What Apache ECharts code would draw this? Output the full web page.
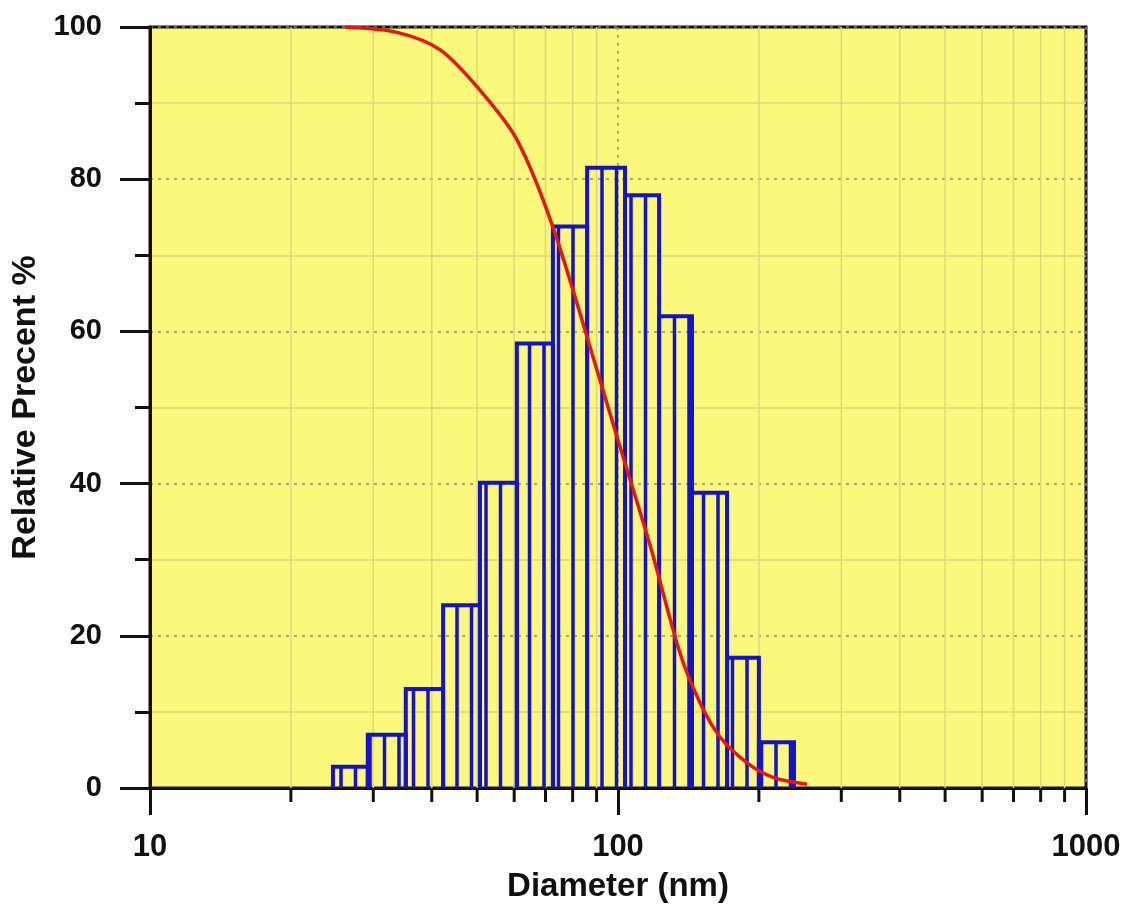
<!DOCTYPE html>
<html>
<head>
<meta charset="utf-8">
<script src="https://cdn.jsdelivr.net/npm/echarts@6/dist/echarts.min.js"></script>
<style>
  html, body { margin: 0; padding: 0; background: #fff; }
  #chart { width: 1130px; height: 915px; }
</style>
</head>
<body>
<div id="chart"></div>
<script>
// histogram bins (nm) and relative percent
const binEdges = [24.6, 29.2, 35.2, 42.3, 50.7, 60.8, 72.6, 85.9, 103.5, 122.4, 143.9, 171.0, 200.0, 237.7];
const binHeights = [2.8, 7.0, 13.0, 24.0, 40.1, 58.4, 73.8, 81.5, 77.9, 62.0, 38.8, 17.1, 6.0];

// cumulative curve
const cumDiameter = [26.1, 33.7, 41.7, 50.7, 60.8, 72.6, 90.2, 100, 117.1, 135.7, 149.7, 165.2, 188.7, 214.4, 253.4];
const cumPercent = [100, 99.3, 97.0, 91.7, 85.2, 73.7, 54.9, 45.7, 31.9, 17.7, 11.2, 6.7, 3.3, 1.4, 0.5];

// minor ticks of the log axis
const minorX = [20, 30, 40, 50, 60, 70, 80, 90, 200, 300, 400, 500, 600, 700, 800, 900];

const BLUE = '#1212d0';
const FONT = '"Liberation Sans", Arial, sans-serif';

const chart = echarts.init(document.getElementById('chart'));

const barData = binHeights.map((h, i) => [binEdges[i], binEdges[i + 1], h]);
const curveData = cumDiameter.map((d, i) => [d, cumPercent[i]]);

function renderBin(params, api) {
    const x0 = api.value(0), x1 = api.value(1), h = api.value(2);
    const pBL = api.coord([x0, 0]);
    const pTR = api.coord([x1, h]);
    const left = pBL[0], right = pTR[0], bottom = pBL[1], top = pTR[1];
    const children = [{
        type: 'polyline',
        shape: { points: [[left, bottom], [left, top], [right, top], [right, bottom]] },
        style: { stroke: BLUE, lineWidth: 4, fill: null }
    }];
    // vertical hatching, fixed pixel pitch
    const gx = params.coordSys.x;
    const pitch = 14.5;
    let k = Math.ceil((left - gx - 2.5) / pitch);
    for (let x = gx + 2.5 + k * pitch; x < right - 2; x += pitch) {
        if (x <= left + 2) continue;
        children.push({
            type: 'line',
            shape: { x1: x, y1: bottom, x2: x, y2: top },
            style: { stroke: BLUE, lineWidth: 3.5 }
        });
    }
    return { type: 'group', children: children };
}

function renderMinor(params, api) {
    const v = api.value(0);
    const pTop = api.coord([v, 100]);
    const pBot = api.coord([v, 0]);
    return {
        type: 'group',
        children: [
            { type: 'line', shape: { x1: pTop[0], y1: pTop[1], x2: pBot[0], y2: pBot[1] },
              style: { stroke: '#ddd77a', lineWidth: 1.5 } },
            { type: 'line', shape: { x1: pBot[0], y1: pBot[1], x2: pBot[0], y2: pBot[1] + 14 },
              style: { stroke: '#111', lineWidth: 3 } }
        ]
    };
}

chart.setOption({
    animation: false,
    backgroundColor: '#fff',
    grid: {
        left: 150, right: 44, top: 27, bottom: 127,
        show: true, backgroundColor: '#fcf87c', borderColor: '#111', borderWidth: 3
    },
    xAxis: {
        type: 'log', logBase: 10, min: 10, max: 1000,
        name: 'Diameter (nm)', nameLocation: 'middle', nameGap: 82,
        nameTextStyle: { fontFamily: FONT, fontWeight: 'bold', fontSize: 33, color: '#111' },
        axisLine: { lineStyle: { color: '#111', width: 3 } },
        axisTick: { show: true, length: 27, lineStyle: { color: '#111', width: 3 } },
        axisLabel: {
            fontFamily: FONT, fontWeight: 'bold', fontSize: 31, color: '#111', margin: 44,
            formatter: v => String(v)
        },
        splitLine: { show: true, lineStyle: { color: '#8f8d66', type: [3, 5], width: 1.5 } }
    },
    yAxis: {
        type: 'value', min: 0, max: 100, interval: 20,
        name: 'Relative Precent %', nameLocation: 'middle', nameGap: 100,
        nameTextStyle: { fontFamily: FONT, fontWeight: 'bold', fontSize: 34, color: '#111' },
        axisLine: { show: true, lineStyle: { color: '#111', width: 3 } },
        axisTick: { show: true, length: 30, lineStyle: { color: '#111', width: 3 } },
        minorTick: { show: true, splitNumber: 2, length: 15, lineStyle: { color: '#111', width: 3 } },
        axisLabel: { fontFamily: FONT, fontWeight: 'bold', fontSize: 29, color: '#111', margin: 48 },
        splitLine: { show: true, lineStyle: { color: '#8f8d66', type: [3, 5], width: 1.5 } },
        minorSplitLine: { show: true, lineStyle: { color: '#ddd77a', width: 1.5 } }
    },
    series: [
        {
            type: 'custom', z: 1, silent: true,
            renderItem: renderMinor,
            data: minorX.map(v => [v])
        },
        {
            type: 'custom', z: 2,
            renderItem: renderBin,
            encode: { x: [0, 1], y: 2 },
            data: barData
        },
        {
            type: 'line', z: 3,
            data: curveData,
            smooth: 0.3, showSymbol: false, symbol: 'none',
            lineStyle: { color: '#e5170e', width: 3.5 }
        }
    ]
});

window.addEventListener('resize', () => chart.resize());
</script>
</body>
</html>
